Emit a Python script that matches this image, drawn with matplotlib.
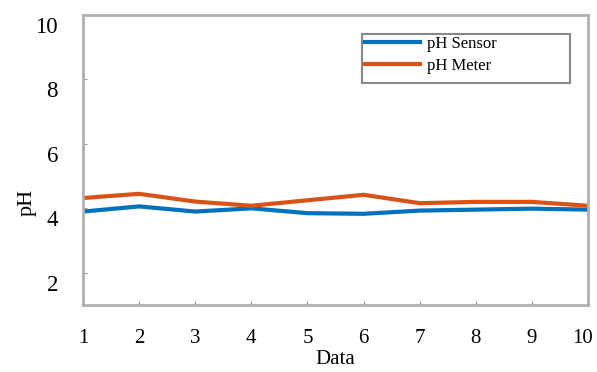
import matplotlib
matplotlib.use('Agg')
import matplotlib.pyplot as plt
from matplotlib.patches import Rectangle
from matplotlib.transforms import ScaledTranslation

# data
data_idx = [1, 2, 3, 4, 5, 6, 7, 8, 9, 10]
ph_sensor = [3.9, 4.06, 3.9, 4.0, 3.85, 3.83, 3.93, 3.96, 3.99, 3.96]
ph_meter = [4.32, 4.45, 4.21, 4.08, 4.25, 4.42, 4.16, 4.2, 4.2, 4.08]

plt.rcParams['font.family'] = ['Liberation Serif', 'DejaVu Serif']

fig = plt.figure(figsize=(5.97, 3.72), dpi=100)
# axes box: x 83..588, y 15..305 px
ax = fig.add_axes([83 / 597, 1 - 305 / 372, 505 / 597, 290 / 372])

ax.plot(data_idx, ph_sensor, color='#0072BD', lw=3, label='pH Sensor')
ax.plot(data_idx, ph_meter, color='#D95319', lw=3, label='pH Meter')

ax.set_xlim(1, 10)
ax.set_ylim(1, 10)
ax.set_xticks(range(1, 11))
ax.set_yticks([2, 4, 6, 8, 10])
ax.tick_params(direction='in', length=3, color='#999999')
ax.tick_params(axis='x', pad=17, labelsize=15)
ax.tick_params(axis='y', pad=18, labelsize=16.5)
for s in ax.spines.values():
    s.set_color('#b0b0b0')
    s.set_linewidth(2)

# y tick labels sit a little below their ticks in the reference
shift = ScaledTranslation(0, -10 / 100, fig.dpi_scale_trans)
for t in ax.yaxis.get_major_ticks():
    t.label1.set_transform(t.label1.get_transform() + shift)

# keep the last x label inside the figure edge
last = ax.xaxis.get_major_ticks()[-1].label1
last.set_transform(last.get_transform() + ScaledTranslation(-5 / 100, 0, fig.dpi_scale_trans))

ax.set_xlabel('Data', fontsize=15, labelpad=2)
ax.set_ylabel('pH', fontsize=16)
ax.yaxis.set_label_coords(-0.091, 0.355)

# legend box drawn MATLAB style (wider than its content)
ax.add_patch(Rectangle((0.552, 0.766), 0.412, 0.168, transform=ax.transAxes,
                       fill=False, edgecolor='#888888', lw=1.5, zorder=5))
leg = ax.legend(loc='upper left', bbox_to_anchor=(0.552, 0.94), fontsize=12,
                frameon=False, handlelength=3.3, borderpad=0.2,
                borderaxespad=0, labelspacing=0.35, handletextpad=0.4)

fig.savefig('out.png', dpi=100)
